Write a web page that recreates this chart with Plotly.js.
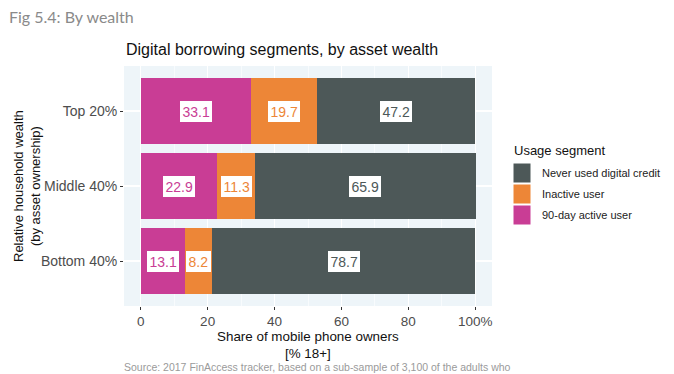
<!DOCTYPE html>
<html><head><meta charset="utf-8">
<script src="https://cdn.plot.ly/plotly-3.0.1.min.js"></script>
<style>body{margin:0;background:#fff}#chart{width:674px;height:374px}</style>
</head><body><div id="chart"></div>
<script>
const categories = ["Bottom 40%", "Middle 40%", "Top 20%"];
const active90 = [13.1, 22.9, 33.1];
const inactive = [8.2, 11.3, 19.7];
const never = [78.7, 65.9, 47.2];
const segmentNames = ["90-day active user", "Inactive user", "Never used digital credit"];
const colors = ["#C93D95", "#ED8637", "#4D5858"];
const xTickVals = [0, 20, 40, 60, 80, 100];
const xTickText = ["0", "20", "40", "60", "80", "100%"];

const series = [active90, inactive, never];
const traces = series.map((vals, i) => ({
  type: "bar", orientation: "h", y: categories, x: vals, name: segmentNames[i],
  marker: {color: colors[i], line: {width: 0}}, width: 0.88, showlegend: false, hoverinfo: "none"
}));

const ff = "Liberation Sans, Arial, sans-serif";
const annotations = [];
categories.forEach((c, j) => {
  let cum = 0;
  series.forEach((vals, i) => {
    const v = vals[j];
    annotations.push({x: cum + v / 2, y: c, xref: "x", yref: "y", text: v.toFixed(1), showarrow: false,
      font: {family: ff, size: 14, color: colors[i]},
      bgcolor: "#ffffff", bordercolor: "#ffffff", borderpad: 1.5, borderwidth: 1});
    cum += v;
  });
});

const px = x => (x - 124) / 368;
const py = y => (306 - y) / 240;
annotations.push(
  {xref: "paper", yref: "paper", x: px(7), y: py(16), xanchor: "left", yanchor: "middle", text: "Fig 5.4: By wealth", showarrow: false, font: {family: "Lato, Open Sans, sans-serif", size: 16, color: "#8a8a8a"}},
  {xref: "paper", yref: "paper", x: 0, y: py(49), xanchor: "left", yanchor: "middle", text: "Digital borrowing segments, by asset wealth", showarrow: false, font: {family: ff, size: 16, color: "#111"}},
  {xref: "paper", yref: "paper", x: px(308), y: py(344.5), xanchor: "center", yanchor: "middle", borderpad: 0, text: "Share of mobile phone owners<br>[% 18+]", showarrow: false, font: {family: ff, size: 13.4, color: "#111"}},
  {xref: "paper", yref: "paper", x: px(27), y: py(186), xanchor: "center", yanchor: "middle", textangle: -90, text: "Relative household wealth<br>(by asset ownership)", showarrow: false, font: {family: ff, size: 13, color: "#111"}},
  {xref: "paper", yref: "paper", x: px(123), y: py(367), xanchor: "left", yanchor: "middle", borderpad: 0, text: "Source: 2017 FinAccess tracker, based on a sub-sample of 3,100 of the adults who", showarrow: false, font: {family: ff, size: 10.5, color: "#9a9a9a"}},
  {xref: "paper", yref: "paper", x: px(512), y: py(150), xanchor: "left", yanchor: "middle", text: "Usage segment", showarrow: false, font: {family: ff, size: 13, color: "#111"}}
);
const legendOrder = [2, 1, 0];
const shapes = [];
const legY0 = 173;
legendOrder.forEach((i, k) => {
  const cy = legY0 + k * 21;
  shapes.push({type: "rect", xref: "paper", yref: "paper",
    x0: px(513), x1: px(531), y0: py(cy + 10), y1: py(cy - 10),
    fillcolor: colors[i], line: {color: "#ffffff", width: 1}});
  annotations.push({xref: "paper", yref: "paper", x: px(540), y: py(cy), xanchor: "left", yanchor: "middle",
    text: segmentNames[i], showarrow: false, font: {family: ff, size: 11, color: "#222"}});
});

const layout = {
  width: 674, height: 374,
  margin: {l: 124, r: 182, t: 66, b: 68},
  paper_bgcolor: "#ffffff", plot_bgcolor: "#EEF5F9",
  barmode: "stack", bargap: 0.1,
  font: {family: ff, size: 14, color: "#4d4d4d"},
  xaxis: {range: [-5, 105], tickvals: xTickVals, ticktext: xTickText, ticks: "outside", ticklen: 3, tickcolor: "#333",
    showgrid: true, gridcolor: "#ffffff", gridwidth: 1.2, zeroline: false,
    minor: {dtick: 10, tick0: 10, showgrid: true, gridcolor: "#ffffff", gridwidth: 0.6},
    tickfont: {size: 13.5, color: "#4d4d4d"}},
  yaxis: {range: [-0.6, 2.6], ticks: "outside", ticklen: 3, tickcolor: "#333", showgrid: true, gridcolor: "#ffffff", gridwidth: 1.2,
    tickfont: {size: 14, color: "#4d4d4d"}},
  annotations: annotations, shapes: shapes, showlegend: false
};
Plotly.newPlot("chart", traces, layout, {staticPlot: true, displayModeBar: false});
</script></body></html>
